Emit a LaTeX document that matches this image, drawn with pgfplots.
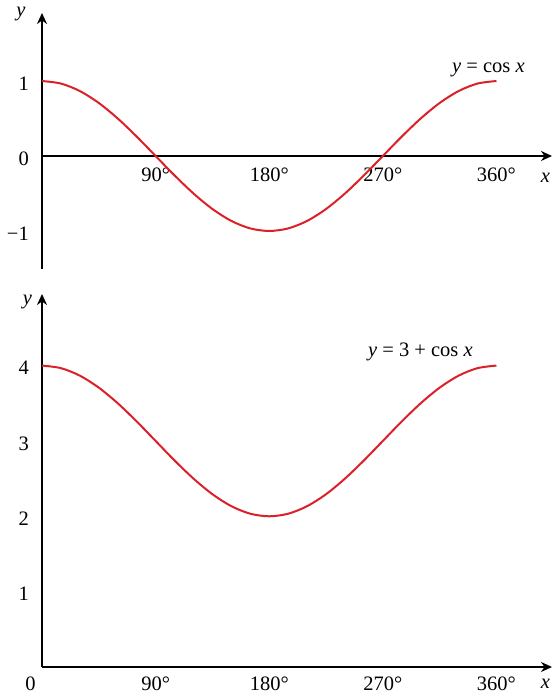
\documentclass[border=0pt]{standalone}
\usepackage{pgfplots}
\pgfplotsset{compat=1.18}
\usepackage{fontspec}
\setmainfont{Liberation Serif}
\usetikzlibrary{arrows.meta}
\definecolor{curvered}{RGB}{218,32,40}
\pgfplotsset{
  myax/.style={
    scale only axis, axis lines=middle,
    axis line style={line width=2pt, -{Stealth[length=11pt,width=10pt]}},
    xmin=0, xmax=404, width=510pt,
    xtick={90,180,270,360}, xticklabels={90°,180°,270°,360°},
    major tick length=0pt,
    hide obscured x ticks=false, hide obscured y ticks=false,
    xticklabel style={anchor=north, inner sep=0pt, yshift=-12pt},
    yticklabel style={anchor=east, inner sep=0pt, xshift=-13pt, yshift=-2.5pt},
    clip=false,
    font=\fontsize{20.5}{24}\selectfont,
    every node/.append style={font=\fontsize{20.5}{24}\selectfont},
  }
}
\begin{document}
\begin{tikzpicture}[x=1pt,y=1pt]
\useasboundingbox (0,0) rectangle (552,696);
% top: y = cos x
\begin{axis}[myax, at={(42pt,427pt)}, anchor=south west,
  ymin=-1.507, ymax=1.907, height=256pt,
  ytick={-1,0,1}, yticklabels={−1,0,1}]
\addplot[curvered, line width=2pt, smooth, no markers] coordinates {
(0,1) (15,0.966) (30,0.866) (45,0.707) (60,0.5) (75,0.259) (90,0)
(105,-0.259) (120,-0.5) (135,-0.707) (150,-0.866) (165,-0.966) (180,-1)
(195,-0.966) (210,-0.866) (225,-0.707) (240,-0.5) (255,-0.259) (270,0)
(285,0.259) (300,0.5) (315,0.707) (330,0.866) (345,0.966) (360,1)};
\node[anchor=base west, inner sep=0pt] at (axis cs:324.8,1.12) {\textit{y} = cos \textit{x}};
\node[anchor=base, inner sep=0pt] at (axis cs:-16.6,1.86) {\textit{y}};
\node[anchor=base west, inner sep=0pt] at (axis cs:395,-0.36) {\textit{x}};
\end{axis}
% bottom: y = 3 + cos x
\begin{axis}[myax, at={(42pt,29pt)}, anchor=south west,
  ymin=0, ymax=4.95, height=373pt,
  ytick={1,2,3,4}, yticklabels={1,2,3,4},
  xticklabel style={yshift=2pt}]
\addplot[curvered, line width=2pt, smooth, no markers] coordinates {
(0,4) (15,3.966) (30,3.866) (45,3.707) (60,3.5) (75,3.259) (90,3)
(105,2.741) (120,2.5) (135,2.293) (150,2.134) (165,2.034) (180,2)
(195,2.034) (210,2.134) (225,2.293) (240,2.5) (255,2.741) (270,3)
(285,3.259) (300,3.5) (315,3.707) (330,3.866) (345,3.966) (360,4)};
\node[anchor=base west, inner sep=0pt] at (axis cs:258.2,4.12) {\textit{y} = 3 + cos \textit{x}};
\node[anchor=base, inner sep=0pt] at (axis cs:-11.5,4.81) {\textit{y}};
\node[anchor=base west, inner sep=0pt] at (axis cs:395,-0.28) {\textit{x}};
\node[anchor=north, inner sep=0pt, yshift=-10pt] at (axis cs:-9.1,0) {0};
\end{axis}
\end{tikzpicture}
\end{document}
